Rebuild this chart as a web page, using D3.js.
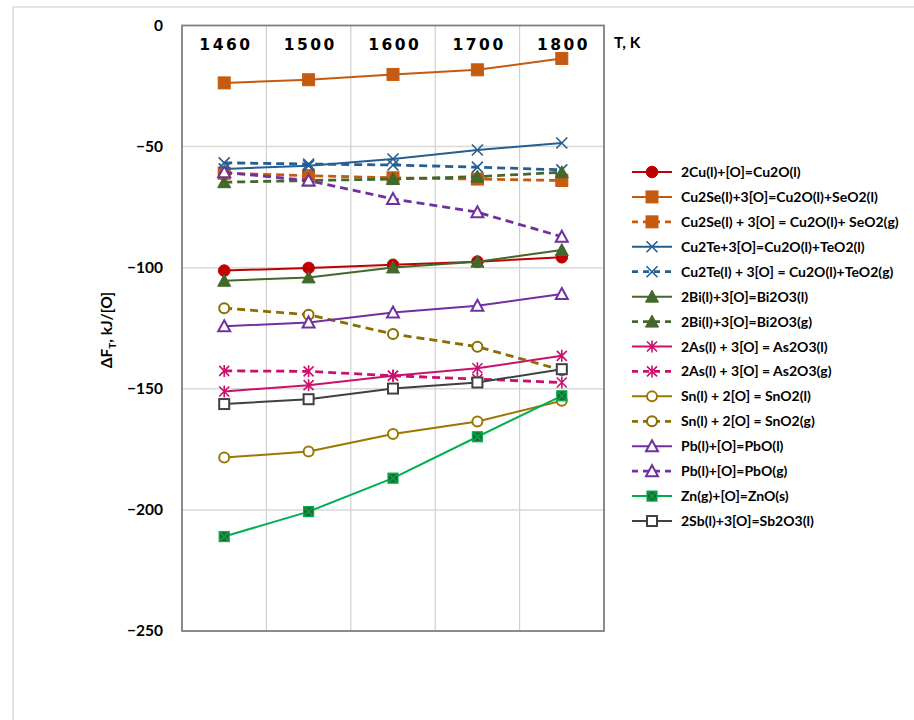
<!DOCTYPE html>
<html>
<head>
<meta charset="utf-8">
<script src="https://cdn.jsdelivr.net/npm/d3@7"></script>
<style>
  body { margin: 0; background: #fff; }
  svg { display: block; }
</style>
</head>
<body>
<svg id="chart" width="914" height="720"></svg>
<script>
// temperatures (category axis)
const temps = ["1460", "1500", "1600", "1700", "1800"];
const yTicks = [0, -50, -100, -150, -200, -250];

// ΔF_T values, kJ/[O]
const cu     = [-101.2, -100.1, -98.8, -97.5, -95.7];
const cu2seL = [-23.7, -22.4, -20.2, -18.3, -13.6];
const cu2seG = [-61.0, -62.0, -62.9, -63.4, -64.0];
const cu2teL = [-59.2, -57.9, -55.1, -51.4, -48.5];
const cu2teG = [-56.7, -57.2, -57.6, -58.5, -59.6];
const biL    = [-105.4, -104.0, -99.9, -97.5, -92.7];
const biG    = [-64.7, -64.0, -63.4, -62.4, -60.6];
const asL    = [-151.1, -148.5, -144.6, -141.5, -136.4];
const asG    = [-142.6, -142.8, -144.6, -146.0, -147.4];
const snL    = [-178.4, -175.9, -168.7, -163.5, -154.9];
const snG    = [-116.7, -119.4, -127.4, -132.6, -142.3];
const pbL    = [-124.2, -122.6, -118.5, -115.7, -110.9];
const pbG    = [-60.6, -64.0, -71.6, -77.1, -87.2];
const zn     = [-211.0, -200.7, -186.9, -169.8, -152.9];
const sb     = [-156.3, -154.3, -149.9, -147.4, -141.9];

const series = [
  { name: "2Cu(l)+[O]=Cu2O(l)",                  values: cu,     color: "#C00000", marker: "circle",   dash: false },
  { name: "Cu2Se(l)+3[O]=Cu2O(l)+SeO2(l)",       values: cu2seL, color: "#C55A11", marker: "square",   dash: false },
  { name: "Cu2Se(l) + 3[O] = Cu2O(l)+ SeO2(g)",  values: cu2seG, color: "#C55A11", marker: "square",   dash: true },
  { name: "Cu2Te+3[O]=Cu2O(l)+TeO2(l)",          values: cu2teL, color: "#255E91", marker: "x",        dash: false },
  { name: "Cu2Te(l) + 3[O] = Cu2O(l)+TeO2(g)",   values: cu2teG, color: "#255E91", marker: "x",        dash: true },
  { name: "2Bi(l)+3[O]=Bi2O3(l)",                values: biL,    color: "#43682B", marker: "triangle", dash: false },
  { name: "2Bi(l)+3[O]=Bi2O3(g)",                values: biG,    color: "#43682B", marker: "triangle", dash: true },
  { name: "2As(l) + 3[O] = As2O3(l)",            values: asL,    color: "#CC0F6E", marker: "star",     dash: false },
  { name: "2As(l) + 3[O] = As2O3(g)",            values: asG,    color: "#CC0F6E", marker: "star",     dash: true },
  { name: "Sn(l) + 2[O] = SnO2(l)",              values: snL,    color: "#9C7700", marker: "ocircle",  dash: false },
  { name: "Sn(l) + 2[O] = SnO2(g)",              values: snG,    color: "#8B6D00", marker: "ocircle",  dash: true },
  { name: "Pb(l)+[O]=PbO(l)",                    values: pbL,    color: "#7030A0", marker: "otri",     dash: false },
  { name: "Pb(l)+[O]=PbO(g)",                    values: pbG,    color: "#7030A0", marker: "otri",     dash: true },
  { name: "Zn(g)+[O]=ZnO(s)",                    values: zn,     color: "#00B050", marker: "zn",       dash: false },
  { name: "2Sb(l)+3[O]=Sb2O3(l)",                values: sb,     color: "#404040", marker: "osquare",  dash: false }
];

const svg = d3.select("#chart");
const plotL = 182, plotR = 604, plotT = 25.5, plotB = 631;

// outer chart frame (only top and left edges visible)
svg.append("line").attr("x1", 13).attr("x2", 914).attr("y1", 7).attr("y2", 7)
  .attr("stroke", "#d9d9d9").attr("stroke-width", 1.5);
svg.append("line").attr("x1", 13).attr("x2", 13).attr("y1", 7).attr("y2", 720)
  .attr("stroke", "#d9d9d9").attr("stroke-width", 1.5);

const xBand = d3.scaleBand().domain(temps).range([plotL, plotR]);
const x = d3.scalePoint().domain(temps).range([plotL, plotR]).padding(0.5);
const y = d3.scaleLinear().domain([-250, 0]).range([plotB, plotT]);

// gridlines
const grid = svg.append("g");
grid.selectAll(".hg").data(yTicks.filter(d => d !== 0 && d !== -250)).enter()
  .append("line")
  .attr("x1", plotL).attr("x2", plotR)
  .attr("y1", d => y(d)).attr("y2", d => y(d))
  .attr("stroke", "#d9d9d9").attr("stroke-width", 1.5);
grid.selectAll(".vg").data(temps.slice(1)).enter()
  .append("line")
  .attr("x1", d => xBand(d)).attr("x2", d => xBand(d))
  .attr("y1", plotT).attr("y2", plotB)
  .attr("stroke", "#d0d0d0").attr("stroke-width", 1.2);

// plot frame
svg.append("rect").attr("x", plotL).attr("y", plotT)
  .attr("width", plotR - plotL).attr("height", plotB - plotT)
  .attr("fill", "none").attr("stroke", "#7f7f7f").attr("stroke-width", 1.8);

// y axis labels
const yAxis = svg.append("g").attr("transform", `translate(${plotL},0)`)
  .call(d3.axisLeft(y).tickValues(yTicks).tickSize(0).tickPadding(19).tickFormat(d3.format("d")));
yAxis.select(".domain").remove();
yAxis.selectAll("text")
  .attr("font-family", "Lato, sans-serif").attr("font-weight", "bold")
  .attr("font-size", 15.5).attr("fill", "#000");

// x axis labels (sit inside plot, under top edge)
const xAxis = svg.append("g").attr("transform", `translate(0,${plotT})`)
  .call(d3.axisBottom(x).tickSize(0).tickPadding(13));
xAxis.select(".domain").remove();
xAxis.selectAll("text")
  .attr("font-family", "DejaVu Sans, sans-serif").attr("font-weight", "bold")
  .attr("font-size", 15.5).attr("letter-spacing", "2.5px").attr("dx", "1.2px").attr("fill", "#000");

svg.append("text").attr("x", 614).attr("y", 48)
  .attr("font-family", "Lato, sans-serif").attr("font-weight", "bold")
  .attr("font-size", 15.5).text("T, K");

// y title
const yt = svg.append("text")
  .attr("transform", "translate(112,330) rotate(-90)")
  .attr("text-anchor", "middle")
  .attr("font-family", "Lato, sans-serif").attr("font-weight", "bold").attr("font-size", 15.5);
yt.append("tspan").text("ΔF");
yt.append("tspan").attr("font-size", 10).attr("dy", 4).text("T");
yt.append("tspan").attr("dy", -4).text(", kJ/[O]");

function drawMarker(g, type, color) {
  const s = 5.5;
  if (type === "circle") {
    g.append("circle").attr("r", 5.8).attr("fill", color).attr("stroke", color);
  } else if (type === "square") {
    g.append("rect").attr("x", -6).attr("y", -6).attr("width", 12).attr("height", 12)
      .attr("fill", color).attr("stroke", color);
  } else if (type === "x") {
    g.append("path").attr("d", `M${-s},${-s}L${s},${s}M${-s},${s}L${s},${-s}`)
      .attr("stroke", color).attr("stroke-width", 1.6).attr("fill", "none");
  } else if (type === "triangle") {
    g.append("path").attr("d", "M0,-6.5L6.5,5.5L-6.5,5.5Z").attr("fill", color).attr("stroke", color);
  } else if (type === "star") {
    g.append("path").attr("d", `M-5,-5L5,5M-5,5L5,-5M0,-6L0,6`)
      .attr("stroke", color).attr("stroke-width", 1.6).attr("fill", "none");
  } else if (type === "ocircle") {
    g.append("circle").attr("r", 5).attr("fill", "#fff").attr("stroke", color).attr("stroke-width", 2);
  } else if (type === "otri") {
    g.append("path").attr("d", "M0,-6L6,5L-6,5Z").attr("fill", "#fff")
      .attr("stroke", color).attr("stroke-width", 2);
  } else if (type === "osquare") {
    g.append("rect").attr("x", -5).attr("y", -5).attr("width", 10).attr("height", 10)
      .attr("fill", "#fff").attr("stroke", color).attr("stroke-width", 2);
  } else if (type === "zn") {
    g.append("rect").attr("x", -5).attr("y", -5).attr("width", 10).attr("height", 10)
      .attr("fill", "#1F6B2E").attr("stroke", color).attr("stroke-width", 1.2);
    g.append("path").attr("d", "M-4,-4L4,4M-4,4L4,-4")
      .attr("stroke", "#00B050").attr("stroke-width", 1.2);
  }
}

const line = d3.line().x((d, i) => x(temps[i])).y(d => y(d));

series.forEach(s => {
  const g = svg.append("g");
  g.append("path").datum(s.values)
    .attr("d", line)
    .attr("fill", "none")
    .attr("stroke", s.color)
    .attr("stroke-width", s.dash ? 2.8 : 2)
    .attr("stroke-dasharray", s.dash ? "8,5" : null);
  s.values.forEach((v, i) => {
    const m = g.append("g").attr("transform", `translate(${x(temps[i])},${y(v)})`);
    drawMarker(m, s.marker, s.color);
  });
});

// legend
const legend = svg.append("g");
series.forEach((s, i) => {
  const ly = 172 + i * 24.93;
  const row = legend.append("g").attr("transform", `translate(0,${ly})`);
  row.append("line").attr("x1", 632).attr("x2", 672).attr("y1", 0).attr("y2", 0)
    .attr("stroke", s.color).attr("stroke-width", s.dash ? 2.8 : 2)
    .attr("stroke-dasharray", s.dash ? "6,5" : null);
  const m = row.append("g").attr("transform", "translate(652,0)");
  drawMarker(m, s.marker, s.color);
  row.append("text").attr("x", 681).attr("y", 5)
    .attr("font-family", "Lato, sans-serif").attr("font-weight", "bold")
    .attr("font-size", 14).attr("fill", "#000").text(s.name);
});
</script>
</body>
</html>
